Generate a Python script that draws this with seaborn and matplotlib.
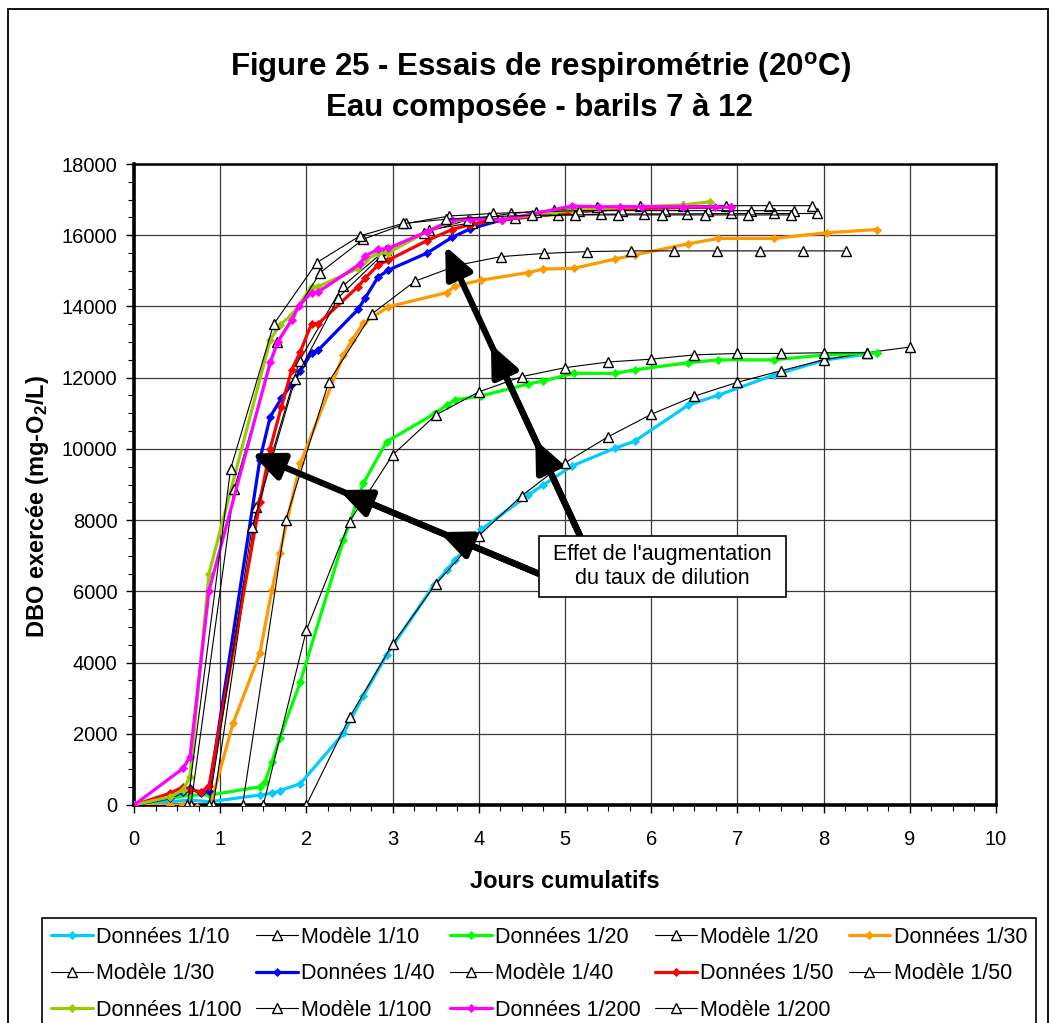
import numpy as np
import pandas as pd
import matplotlib
matplotlib.use("Agg")
import matplotlib.pyplot as plt
import seaborn as sns
from matplotlib.lines import Line2D
from matplotlib.patches import Rectangle

# ---------------- data ----------------
d10_x = [0, 0.65, 0.88, 1.46, 1.60, 1.69, 1.93, 2.43, 2.66, 2.93, 3.48, 3.63, 3.72, 3.90, 4.03,
         4.57, 4.75, 5.08, 5.58, 5.81, 6.43, 6.78, 7.42, 8.02, 8.62]
d10_y = [0, 140, 90, 280, 330, 400, 600, 2010, 3060, 4210, 6180, 6600, 6880, 7300, 7740,
         8700, 8990, 9520, 10020, 10220, 11230, 11510, 12070, 12500, 12700]

d20_x = [0, 0.65, 0.88, 1.46, 1.52, 1.60, 1.69, 1.93, 2.43, 2.66, 2.93, 3.48, 3.63, 3.72, 4.03,
         4.57, 4.75, 5.10, 5.58, 5.81, 6.43, 6.78, 7.42, 8.02, 8.62]
d20_y = [0, 280, 280, 510, 650, 1220, 1870, 3460, 7440, 9030, 10200, 10980, 11230, 11370, 11490,
         11820, 11910, 12120, 12120, 12220, 12420, 12500, 12500, 12640, 12700]

d30_x = [0, 0.42, 0.57, 0.73, 0.88, 1.15, 1.46, 1.60, 1.69, 1.93, 2.43, 2.53, 2.66, 2.95, 3.63,
         3.72, 4.03, 4.57, 4.75, 5.10, 5.58, 5.81, 6.43, 6.78, 7.42, 8.04, 8.62]
d30_y = [0, 0, 0, -50, -50, 2300, 4260, 6040, 7070, 9600, 12640, 13060, 13530, 13990, 14390,
         14570, 14740, 14950, 15050, 15070, 15330, 15450, 15760, 15910, 15910, 16070, 16160]

d40_x = [0, 0.42, 0.57, 0.65, 0.78, 0.87, 1.46, 1.58, 1.71, 1.83, 1.93, 2.06, 2.14, 2.60, 2.68,
         2.83, 2.95, 3.40, 3.69, 3.90, 4.27, 5.08, 5.64, 6.37, 6.93]
d40_y = [0, 200, 370, 470, 330, 380, 9700, 10900, 11420, 11820, 12190, 12700, 12780, 13920, 14230,
         14820, 15020, 15500, 15940, 16180, 16430, 16650, 16750, 16780, 16800]

d50_x = [0, 0.42, 0.57, 0.65, 0.78, 0.87, 1.46, 1.58, 1.71, 1.83, 1.93, 2.06, 2.14, 2.60, 2.68,
         2.83, 2.95, 3.40, 3.69, 3.90, 4.27, 5.08, 5.64, 6.37, 6.93]
d50_y = [0, 330, 510, 430, 370, 530, 8500, 10010, 11180, 12220, 12730, 13520, 13520, 14560, 14790,
         15160, 15300, 15850, 16160, 16300, 16430, 16650, 16750, 16780, 16800]

d100_x = [0, 0.42, 0.57, 0.65, 0.87, 1.58, 1.69, 1.83, 2.06, 2.14, 2.60, 2.68, 2.83, 2.95, 3.40,
          3.69, 3.90, 4.27, 5.08, 5.64, 6.37, 6.68]
d100_y = [0, 230, 420, 800, 6500, 13060, 13480, 13760, 14560, 14560, 15070, 15300, 15490, 15510, 16100,
          16400, 16450, 16450, 16700, 16780, 16850, 16940]

d200_x = [0, 0.57, 0.65, 0.87, 1.58, 1.67, 1.83, 1.91, 2.06, 2.14, 2.62, 2.68, 2.83, 2.95, 3.40,
          3.69, 3.90, 4.27, 5.08, 5.39, 5.64, 5.89, 6.37, 6.74, 6.93]
d200_y = [0, 1030, 1360, 6020, 12430, 13010, 13620, 14010, 14390, 14410, 15190, 15420, 15600, 15630, 16100,
          16430, 16450, 16430, 16820, 16800, 16800, 16800, 16800, 16800, 16780]

m10_x = [2.0, 2.5, 3.0, 3.5, 4.0, 4.5, 5.0, 5.5, 6.0, 6.5, 7.0, 7.5, 8.0, 8.5, 9.0]
m10_y = [0, 2460, 4520, 6200, 7560, 8690, 9610, 10340, 10970, 11480, 11870, 12190, 12500, 12700, 12860]

m20_x = [1.5, 2.0, 2.5, 3.0, 3.5, 4.0, 4.5, 5.0, 5.5, 6.0, 6.5, 7.0, 7.5, 8.0, 8.5]
m20_y = [0, 4910, 7960, 9830, 10950, 11600, 12030, 12280, 12440, 12520, 12640, 12680, 12680, 12700, 12700]

m30_x = [1.26, 1.76, 2.26, 2.76, 3.26, 3.76, 4.26, 4.76, 5.26, 5.76, 6.26, 6.76, 7.26, 7.76, 8.26]
m30_y = [0, 8000, 11890, 13790, 14710, 15160, 15400, 15490, 15540, 15560, 15560, 15560, 15560, 15560, 15560]

m40_x = [0.92, 1.42, 1.92, 2.42, 2.92, 3.42, 3.92, 4.42, 4.92, 5.42, 5.92, 6.42, 6.92, 7.42, 7.92]
m40_y = [0, 8360, 12480, 14570, 15590, 16150, 16350, 16470, 16570, 16590, 16600, 16600, 16610, 16610, 16610]

m50_x = [0.87, 1.37, 1.87, 2.37, 2.87, 3.37, 3.87, 4.37, 4.87, 5.37, 5.87, 6.37, 6.87, 7.37, 7.87]
m50_y = [0, 7800, 11960, 14250, 15420, 16070, 16430, 16610, 16700, 16800, 16820, 16830, 16830, 16830, 16830]

m100_x = [0.66, 1.16, 1.66, 2.16, 2.66, 3.16, 3.66, 4.16, 4.66, 5.16, 5.66, 6.16, 6.66, 7.16, 7.66]
m100_y = [0, 8860, 13010, 14950, 15890, 16330, 16540, 16610, 16660, 16690, 16690, 16690, 16690, 16690, 16690]

m200_x = [0.62, 1.12, 1.62, 2.12, 2.62, 3.12, 3.62, 4.12, 4.62, 5.12, 5.62, 6.12, 6.62, 7.12, 7.62]
m200_y = [0, 9430, 13500, 15230, 15980, 16330, 16450, 16520, 16560, 16570, 16570, 16570, 16570, 16570, 16570]

dilutions = ["1/10", "1/20", "1/30", "1/40", "1/50", "1/100", "1/200"]
data_colors = ["#00CCFF", "#00FF00", "#FF9900", "#0000FF", "#FF0000", "#99CC00", "#FF00FF"]
data_series = [(d10_x, d10_y), (d20_x, d20_y), (d30_x, d30_y), (d40_x, d40_y),
               (d50_x, d50_y), (d100_x, d100_y), (d200_x, d200_y)]
model_series = [(m10_x, m10_y), (m20_x, m20_y), (m30_x, m30_y), (m40_x, m40_y),
                (m50_x, m50_y), (m100_x, m100_y), (m200_x, m200_y)]

title_1 = "Figure 25 - Essais de respirométrie (20$^{\\mathrm{o}}$C)"
title_2 = "Eau composée - barils 7 à 12"
xlabel = "Jours cumulatifs"
ylabel = "DBO exercée (mg-O$_{\\mathrm{2}}$/L)"
note = "Effet de l'augmentation\ndu taux de dilution"

# ---------------- style ----------------
sns.set_theme(style="white")
plt.rcParams["font.family"] = ["Liberation Sans", "DejaVu Sans"]
plt.rcParams["mathtext.fontset"] = "custom"
plt.rcParams["mathtext.rm"] = "Liberation Sans:bold"
plt.rcParams["mathtext.it"] = "Liberation Sans:bold"
plt.rcParams["mathtext.bf"] = "Liberation Sans:bold"
for k in ["text.color", "axes.labelcolor", "xtick.color", "ytick.color", "axes.edgecolor"]:
    plt.rcParams[k] = "black"

W, H = 1052, 1023
fig = plt.figure(figsize=(W / 100, H / 100), dpi=100)
fig.patch.set_facecolor("white")

L, R, T, B = 134, 996, 164, 805
ax = fig.add_axes([L / W, 1 - B / H, (R - L) / W, (B - T) / H])
ax.set_facecolor("white")

data_kw = dict(lw=2.3, marker="D", ms=4.2, markeredgewidth=0.6)
model_kw = dict(lw=0.8, marker="^", ms=6.5, markeredgewidth=1.0,
                markerfacecolor="white", markeredgecolor="black", color="black")

handles = []
labels = []
for i, dil in enumerate(dilutions):
    dx, dy = data_series[i]
    col = data_colors[i]
    sns.lineplot(x=dx, y=dy, ax=ax, estimator=None, sort=False, color=col,
                 markeredgecolor=col, markerfacecolor=col, zorder=3 + 2 * i,
                 legend=False, **data_kw)
    handles.append(Line2D([], [], color=col, markeredgecolor=col, markerfacecolor=col, **data_kw))
    labels.append("Données " + dil)
    mx, my = model_series[i]
    sns.lineplot(x=mx, y=my, ax=ax, estimator=None, sort=False, zorder=4 + 2 * i,
                 legend=False, **model_kw)
    handles.append(Line2D([], [], **model_kw))
    labels.append("Modèle " + dil)

ax.set_xlim(0, 10)
ax.set_ylim(0, 18000)
ax.set_xticks(np.arange(0, 11, 1))
ax.set_xticks(np.arange(0, 10.01, 0.25), minor=True)
ax.set_yticks(np.arange(0, 18001, 2000))
ax.set_yticks(np.arange(0, 18001, 500), minor=True)
ax.grid(True, which="major", color="#3a3a3a", lw=0.9)
ax.grid(False, which="minor")
ax.set_axisbelow(True)
ax.tick_params(axis="both", which="both", direction="out", colors="black",
               bottom=True, left=True, top=False, right=False)
ax.tick_params(axis="x", which="major", length=6, width=1.0, labelsize=14.5, pad=12)
ax.tick_params(axis="x", which="minor", length=4, width=0.8)
ax.tick_params(axis="y", which="major", length=6, width=1.0, labelsize=14.5, pad=6)
ax.tick_params(axis="y", which="minor", length=4, width=0.8)
for s in ["left", "bottom"]:
    ax.spines[s].set_linewidth(2.6)
for s in ["top", "right"]:
    ax.spines[s].set_linewidth(1.8)
for s in ax.spines.values():
    s.set_color("black")
    s.set_visible(True)

# ---------------- arrows (annotation) ----------------
arrow_specs = [
    ((4.69, 6500), (1.365, 9870), [1.0, 0.695, 0.345]),
    ((5.17, 7580), (3.61, 15700), [1.0, 0.66, 0.33]),
]
for tail, tip, fracs in arrow_specs:
    for f in fracs:
        head = (tail[0] + f * (tip[0] - tail[0]), tail[1] + f * (tip[1] - tail[1]))
        ax.annotate("", xy=head, xytext=tail,
                    arrowprops=dict(arrowstyle="-|>,head_length=0.95,head_width=0.42",
                                    mutation_scale=20, color="black", lw=4.5,
                                    shrinkA=0, shrinkB=0),
                    zorder=30)

# annotation box
bx0, by0, bx1, by1 = 539, 536, 786, 597
fig.patches.append(Rectangle((bx0 / W, 1 - by1 / H), (bx1 - bx0) / W, (by1 - by0) / H,
                             transform=fig.transFigure, fc="white", ec="black", lw=1.2, zorder=5))
fig.text((bx0 + bx1) / 2 / W, 1 - (by0 + by1) / 2 / H, note, ha="center", va="center",
         fontsize=15.5, linespacing=1.2, multialignment="center", zorder=6, color="black")

# ---------------- texts ----------------
fig.text(541 / W, 1 - 68 / H, title_1, ha="center", va="center", fontsize=22.5,
         fontweight="bold", color="black")
fig.text(539 / W, 1 - 108 / H, title_2, ha="center", va="center", fontsize=22.5,
         fontweight="bold", color="black")
fig.text(565 / W, 1 - 882 / H, xlabel, ha="center", va="center", fontsize=17,
         fontweight="bold", color="black")
fig.text(38 / W, 1 - 506 / H, ylabel, ha="center", va="center", rotation=90,
         fontsize=17, fontweight="bold", color="black")

# ---------------- legend (row-major order in 5 columns) ----------------
ncol = 5
n = len(handles)
nrow = int(np.ceil(n / ncol))
order = [r * ncol + c for c in range(ncol) for r in range(nrow) if r * ncol + c < n]
leg = fig.legend([handles[k] for k in order], [labels[k] for k in order],
                 loc="upper left", bbox_to_anchor=(42 / W, 1 - 918 / H),
                 bbox_transform=fig.transFigure, ncol=ncol, fontsize=15.5,
                 frameon=True, fancybox=False, edgecolor="black", framealpha=1,
                 borderpad=0.4, handlelength=1.95, handletextpad=0.15,
                 columnspacing=0.68, labelspacing=0.72, borderaxespad=0)
leg.get_frame().set_linewidth(1.2)
for t in leg.get_texts():
    t.set_color("black")

# outer chart border
fig.patches.append(Rectangle((8 / W, -0.05), (1048 - 8) / W, (1023 - 9) / H + 0.05,
                             transform=fig.transFigure, fill=False, ec="black", lw=1.3, zorder=0))

fig.savefig("out.png", dpi=100, facecolor="white")
